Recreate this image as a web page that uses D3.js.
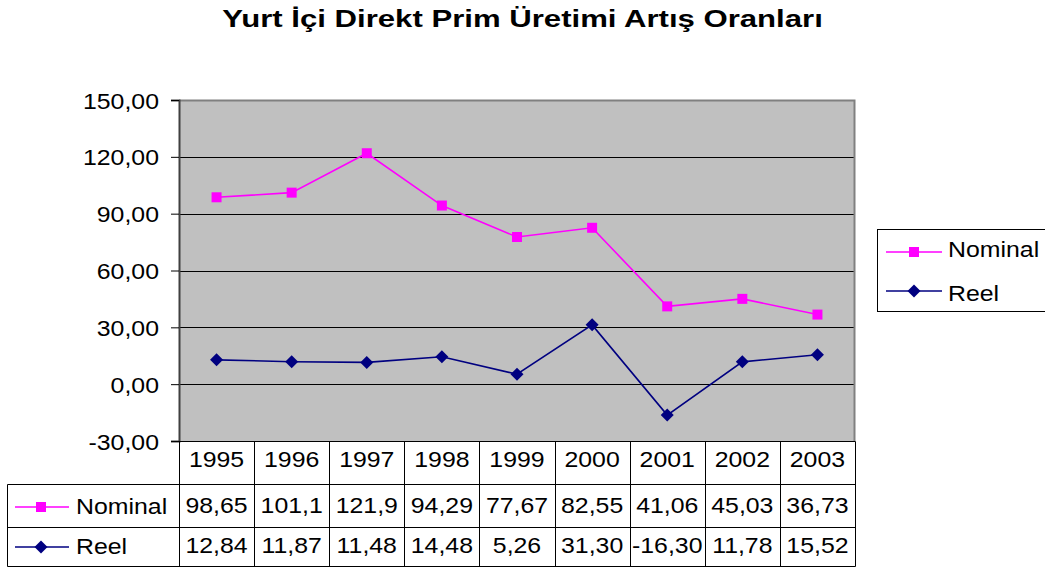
<!DOCTYPE html>
<html><head><meta charset="utf-8">
<script src="https://cdn.jsdelivr.net/npm/d3@7"></script>
<style>body{margin:0;background:#fff}svg{display:block;font-family:"Liberation Sans",Arial,sans-serif}</style>
</head><body>
<svg id="c" width="1045" height="571"></svg>
<script>
const years = ["1995","1996","1997","1998","1999","2000","2001","2002","2003"];
const nominal = [98.65,101.1,121.9,94.29,77.67,82.55,41.06,45.03,36.73];
const reel = [12.84,11.87,11.48,14.48,5.26,31.30,-16.30,11.78,15.52];
const nominalLabels = ["98,65","101,1","121,9","94,29","77,67","82,55","41,06","45,03","36,73"];
const reelLabels = ["12,84","11,87","11,48","14,48","5,26","31,30","-16,30","11,78","15,52"];
const yTicks = [-30,0,30,60,90,120,150];
const seriesNames = ["Nominal","Reel"];
const colors = ["#FF00FF","#000080"];

const FS=22, SX=1.13;
const svg = d3.select("#c");
const L=179,R=855,T=100,B=441;
const x = d3.scaleBand().domain(years).range([L,R]);
const y = d3.scaleLinear().domain([-30,150]).range([B,T]);

function stext(g,tx,ty,str,anchor){
  return g.append("text").attr("transform",`translate(${tx},${ty}) scale(${SX},1)`)
    .attr("font-size",FS).attr("text-anchor",anchor||"start").attr("fill","#000").text(str);
}

const title = svg.append("text").attr("font-size",24).attr("font-weight","bold").attr("text-anchor","middle")
  .text("Yurt İçi Direkt Prim Üretimi Artış Oranları");
const tw = title.node().getComputedTextLength();
title.attr("transform",`translate(522.5,27) scale(${601/tw},1)`);

svg.append("rect").attr("x",L).attr("y",T).attr("width",R-L).attr("height",B-T).attr("fill","#C0C0C0");
svg.append("g").selectAll("line").data(yTicks.filter(d=>d>-30&&d<150)).join("line")
  .attr("x1",L).attr("x2",R).attr("y1",d=>Math.round(y(d))+0.5).attr("y2",d=>Math.round(y(d))+0.5)
  .attr("stroke","#000").attr("stroke-width",1);
svg.append("path").attr("d",`M${L},${T+0.5}H${R-0.5}V${B}`).attr("fill","none").attr("stroke","#808080").attr("stroke-width",2);

const yAxis = d3.axisLeft(y).tickValues(yTicks).tickSize(8).tickFormat(()=>"" );
const ga = svg.append("g").attr("transform",`translate(${L},0)`).call(yAxis);
ga.select(".domain").attr("stroke","#404040").attr("stroke-width",2);
ga.selectAll(".tick line").attr("stroke","#000");
ga.selectAll(".tick").each(function(d){
  stext(d3.select(this),-20,8,d3.format(".2f")(d).replace("\u2212","-").replace(".",","),"end");
});

const line = d3.line().x((d,i)=>x(years[i])+x.bandwidth()/2).y(d=>y(d));
const sq="M-5,-5H5V5H-5Z", dm="M0,-6.5L6.5,0L0,6.5L-6.5,0Z";
[nominal,reel].forEach((s,k)=>{
  svg.append("path").datum(s).attr("d",line).attr("fill","none").attr("stroke",colors[k]).attr("stroke-width",1.6);
  svg.append("g").selectAll("path").data(s).join("path")
    .attr("transform",(d,i)=>`translate(${x(years[i])+x.bandwidth()/2},${y(d)})`)
    .attr("d",k===0?sq:dm).attr("fill",colors[k]);
});

// data table
const rowH=[441,484,527,566];
const TL=7;
const tb = svg.append("g").attr("stroke","#000").attr("stroke-width",1).attr("fill","none");
tb.append("path").attr("d",`M${L+0.5},${rowH[0]}V${rowH[3]+0.5}`);
tb.append("path").attr("d",`M${L},${rowH[0]+0.5}H${R+0.5}V${rowH[3]+0.5}H${TL+0.5}V${rowH[1]+0.5}H${R}`);
tb.append("path").attr("d",`M${TL},${rowH[2]+0.5}H${R}`);
years.forEach((yr,i)=>{ if(i>0) tb.append("path").attr("d",`M${Math.round(x(yr))+0.5},${rowH[0]}V${rowH[3]}`); });

const tg = svg.append("g");
years.forEach((yr,i)=>stext(tg,x(yr)+x.bandwidth()/2,467,yr,"middle"));
[nominalLabels,reelLabels].forEach((labs,k)=>{
  labs.forEach((lab,i)=>stext(tg,x(years[i])+x.bandwidth()/2,k===0?513:553,lab,"middle"));
});

function legendKey(g,k,x1,x2,cx,cy){
  g.append("line").attr("x1",x1).attr("x2",x2).attr("y1",cy).attr("y2",cy).attr("stroke",colors[k]).attr("stroke-width",1.6);
  g.append("path").attr("transform",`translate(${cx},${cy})`).attr("d",k===0?sq:dm).attr("fill",colors[k]);
}
seriesNames.forEach((n,k)=>{
  const cy = k===0?507:547;
  legendKey(svg,k,15,69,41,cy);
  stext(svg,76,cy+7,n);
});

svg.append("rect").attr("x",877.5).attr("y",229.5).attr("width",170).attr("height",82).attr("fill","#fff").attr("stroke","#000");
seriesNames.forEach((n,k)=>{
  const cy = k===0?252:291;
  legendKey(svg,k,886,942,914,cy);
  stext(svg,948,k===0?257:301,n);
});
</script>
</body></html>
